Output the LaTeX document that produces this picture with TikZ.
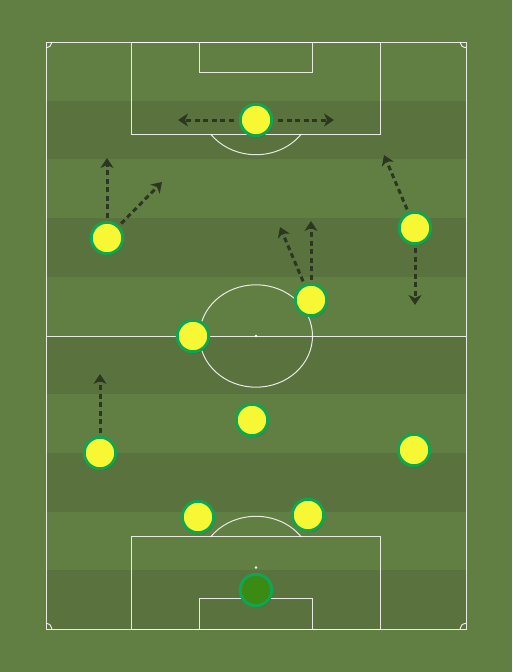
\documentclass[tikz,border=0pt]{standalone}
\usetikzlibrary{arrows.meta,shadows}
\definecolor{grass}{HTML}{627F43}
\definecolor{grassdark}{HTML}{5A733E}
\definecolor{pyellow}{HTML}{F7F733}
\definecolor{ring}{HTML}{10A550}
\definecolor{gkfill}{HTML}{3A8A14}
\definecolor{arrowc}{HTML}{2B3721}
\tikzset{
  pitchline/.style={draw=white, draw opacity=0.85, line width=1pt},
  player/.style={circle, minimum size=31.5pt, inner sep=0pt, line width=3pt, draw=ring, fill=pyellow,
    drop shadow={shadow xshift=1pt, shadow yshift=-1.5pt, opacity=0.25, fill=black}},
  keeper/.style={player, fill=gkfill},
  mv/.style={draw=arrowc, line width=3pt, dash pattern=on 5pt off 3.5pt,
    -{Stealth[length=10pt,width=13pt,inset=3pt]}, shorten <=3pt}
}
\begin{document}
\begin{tikzpicture}[x=1pt,y=-1pt]
\useasboundingbox (0,0) rectangle (512,672);
\fill[grass] (0,0) rectangle (512,672);
\foreach \i in {1,3,5,7,9}
  \fill[grassdark] (46,{42+58.7*\i}) rectangle (466,{42+58.7*(\i+1)});
% pitch markings
\draw[pitchline] (46,42) rectangle (466,629);
\draw[pitchline] (46,336) -- (466,336);
\draw[pitchline] (256,336) ellipse[x radius=56.5, y radius=51.2];
\fill[white] (256,336) circle[radius=1.4];
% top penalty area
\draw[pitchline] (131.5,42) rectangle (380.5,134.2);
\draw[pitchline] (199.5,42) rectangle (312.5,72.7);
\draw[pitchline] (301.2,134.2) arc[start angle=36.8, end angle=143.2, x radius=56.5, y radius=51.2];
% bottom penalty area
\draw[pitchline] (131.5,629) rectangle (380.5,536.8);
\draw[pitchline] (199.5,629) rectangle (312.5,598.3);
\draw[pitchline] (301.2,536.8) arc[start angle=-36.8, end angle=-143.2, x radius=56.5, y radius=51.2];
\fill[white] (256,567.5) circle[radius=1.4];
% corner arcs
\draw[pitchline] (52,42) arc[start angle=0, end angle=90, x radius=6, y radius=5.6];
\draw[pitchline] (460,42) arc[start angle=180, end angle=90, x radius=6, y radius=5.6];
\draw[pitchline] (52,629) arc[start angle=0, end angle=-90, x radius=6, y radius=5.6];
\draw[pitchline] (460,629) arc[start angle=180, end angle=270, x radius=6, y radius=5.6];
% players
\node[player] (p1) at (256,120) {};
\node[player] (p2) at (107,238) {};
\node[player] (p3) at (415,228) {};
\node[player] (p4) at (311,300) {};
\node[player] (p5) at (193,336) {};
\node[player] (p6) at (100,453) {};
\node[player] (p7) at (252,420) {};
\node[player] (p8) at (414,450) {};
\node[player] (p9) at (198,517) {};
\node[player] (p10) at (308,515) {};
\node[keeper] (p11) at (256,590) {};
% arrow targets
\coordinate (t1l) at (178,120);
\coordinate (t1r) at (334,120);
\coordinate (t2u) at (107,158);
\coordinate (t2d) at (162,182);
\coordinate (t3u) at (384,155);
\coordinate (t3d) at (415,305);
\coordinate (t4u) at (311,221);
\coordinate (t4l) at (280,227);
\coordinate (t6u) at (100,374);
% movement arrows
\draw[mv, shorten <=5pt] (p1) -- (t1l);
\draw[mv, shorten <=5pt] (p1) -- (t1r);
\draw[mv] (p2) -- (t2u);
\draw[mv] (p2) -- (t2d);
\draw[mv] (p3) -- (t3u);
\draw[mv] (p3) -- (t3d);
\draw[mv] (p4) -- (t4u);
\draw[mv] (p4) -- (t4l);
\draw[mv] (p6) -- (t6u);
\end{tikzpicture}
\end{document}
